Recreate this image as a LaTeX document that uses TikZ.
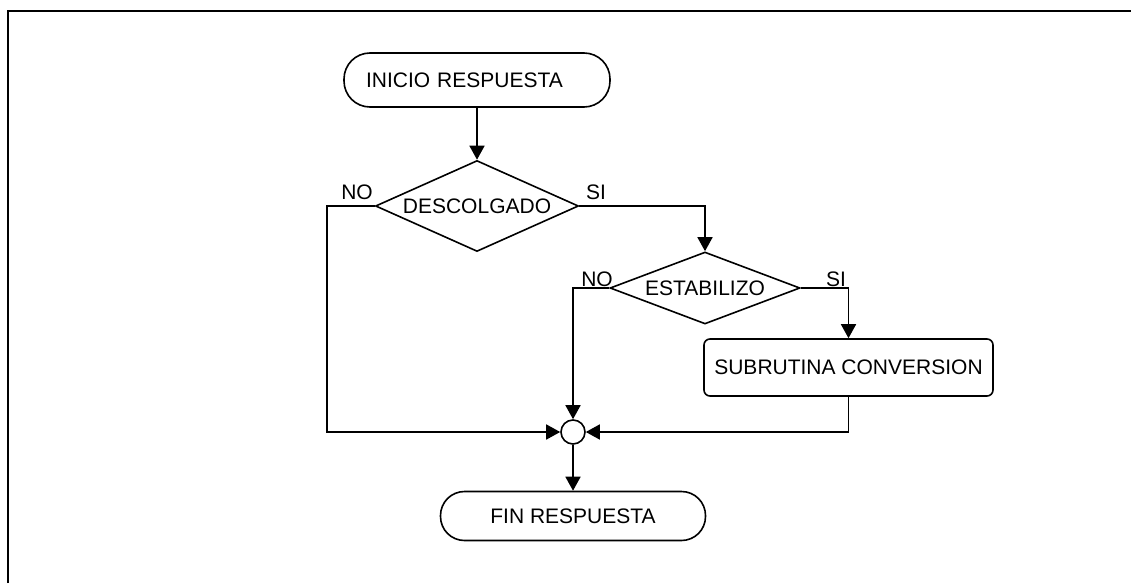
\documentclass[tikz,border=0pt]{standalone}
\usepackage{fontspec}
\setmainfont{Liberation Sans}
\usepackage{tikz}
\usetikzlibrary{shapes,arrows.meta,positioning}

\begin{document}
\begin{tikzpicture}[x=1pt,y=-1pt,line width=1.6pt,
    every node/.style={font=\fontsize{21}{25}\selectfont},
    terminal/.style={draw,rectangle,rounded corners=26pt,minimum height=54pt},
    decision/.style={draw,diamond,inner sep=0pt},
    process/.style={draw,rectangle,rounded corners=6pt,minimum width=289pt,minimum height=57pt},
    junction/.style={draw,circle,inner sep=0pt,minimum size=24pt},
    flow/.style={-{Triangle[length=14pt,width=15pt]}}]
    \useasboundingbox (0,0) rectangle (1131,583);
    \draw (8,583) -- (8,11) -- (1131,11);

    % Blocks
    \node[terminal,inner xsep=22pt,text width=222pt,align=left] (inicio) at (477,80) {INICIO RESPUESTA};
    \node[decision,aspect=2.2,minimum width=203pt,minimum height=91pt] (descolgado) at (477,206) {DESCOLGADO};
    \node[decision,aspect=2.6,minimum width=190pt,minimum height=72pt] (estabilizo) at (705,288) {ESTABILIZO};
    \node[process] (conversion) at (848.5,367.5) {SUBRUTINA CONVERSION};
    \node[junction] (union) at (573,432) {};
    \node[terminal,minimum width=265pt,minimum height=49pt,rounded corners=24pt] (fin) at (573,516) {FIN RESPUESTA};
    \coordinate (codo) at (327,432);

    % Labels
    \node (noA) at (357,192) {NO};
    \node (siA) at (596,192) {SI};
    \node (noB) at (597,279) {NO};
    \node (siB) at (836,279) {SI};

    % Flow lines
    \draw[flow] (inicio.south) -- (descolgado.north);
    \draw[flow] (descolgado.east) -| (estabilizo.north);
    \draw[flow] (descolgado.west) -| (codo) -- (union.west);
    \draw[flow] (estabilizo.west) -| (union.north);
    \draw[flow] (estabilizo.east) -| (conversion.north);
    \draw[flow] (conversion.south) |- (union.east);
    \draw[flow] (union.south) -- (fin.north);
\end{tikzpicture}
\end{document}
